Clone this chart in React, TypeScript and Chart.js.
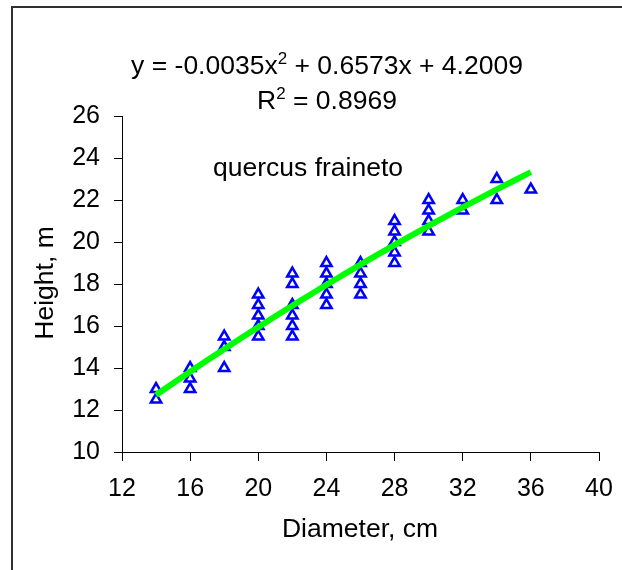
import { useEffect, useRef } from "react";
import { Chart, registerables } from "chart.js";

Chart.register(...registerables);

// Diameter classes (cm) and the measured heights (m) at each class
const DIAMETER_CLASSES = [14, 16, 18, 20, 22, 24, 26, 28, 30, 32, 34, 36];
const HEIGHTS_BY_CLASS = [
  [13, 12.5],
  [14, 13.5, 13],
  [15.5, 15, 14],
  [17.5, 17, 16.5, 16, 15.5],
  [18.5, 18, 17, 16.5, 16, 15.5],
  [19, 18.5, 18, 17.5, 17],
  [19, 18.5, 18, 17.5],
  [21, 20.5, 20, 19.5, 19],
  [22, 21.5, 21, 20.5],
  [22, 21.5],
  [23, 22],
  [22.5],
];

// Polynomial trend line shown in the chart: y = a x^2 + b x + c
const TREND_COEFFS = [-0.0035, 0.6573, 4.2009];
const TREND_RANGE = [14, 36];
const TREND_STEP = 0.5;

const X_AXIS = { min: 12, max: 40, step: 4 };
const Y_AXIS = { min: 10, max: 26, step: 2 };

const EQUATION_PARTS = ["y = -0.0035x", "2", " + 0.6573x + 4.2009"];
const R2_PARTS = ["R", "2", " = 0.8969"];
const SPECIES_LABEL = "quercus fraineto";
const X_TITLE = "Diameter, cm";
const Y_TITLE = "Height, m";

const FONT_FAMILY = "'Liberation Sans', Arial, sans-serif";

export default function App() {
  const canvasRef = useRef<HTMLCanvasElement | null>(null);

  useEffect(() => {
    document.body.style.margin = "0";
    const canvas = canvasRef.current;
    if (!canvas) return;

    const points: { x: number; y: number }[] = [];
    DIAMETER_CLASSES.forEach((d, i) => {
      HEIGHTS_BY_CLASS[i].forEach((h) => points.push({ x: d, y: h }));
    });

    const trend: { x: number; y: number }[] = [];
    for (let x = TREND_RANGE[0]; x <= TREND_RANGE[1] + 1e-9; x += TREND_STEP) {
      trend.push({
        x,
        y: TREND_COEFFS[0] * x * x + TREND_COEFFS[1] * x + TREND_COEFFS[2],
      });
    }

    const BIG = `26.5px ${FONT_FAMILY}`;
    const SMALL = `17px ${FONT_FAMILY}`;

    const drawSup = (
      ctx: CanvasRenderingContext2D,
      parts: string[],
      cx: number,
      baseline: number
    ) => {
      ctx.font = BIG;
      const w0 = ctx.measureText(parts[0]).width;
      const w2 = ctx.measureText(parts[2]).width;
      ctx.font = SMALL;
      const w1 = ctx.measureText(parts[1]).width;
      const total = w0 + w1 + w2;
      let x = cx - total / 2;
      ctx.textAlign = "left";
      ctx.textBaseline = "alphabetic";
      ctx.font = BIG;
      ctx.fillText(parts[0], x, baseline);
      x += w0;
      ctx.font = SMALL;
      ctx.fillText(parts[1], x, baseline - 10);
      x += w1;
      ctx.font = BIG;
      ctx.fillText(parts[2], x, baseline);
    };

    const decor = {
      id: "decor",
      beforeDraw(chart: Chart) {
        const ctx = chart.ctx;
        ctx.save();
        ctx.fillStyle = "#ffffff";
        ctx.fillRect(0, 0, chart.width, chart.height);
        ctx.strokeStyle = "#303030";
        ctx.lineWidth = 2;
        ctx.beginPath();
        ctx.moveTo(12, chart.height + 5);
        ctx.lineTo(12, 7);
        ctx.lineTo(chart.width + 5, 7);
        ctx.stroke();
        ctx.restore();
      },
      afterDraw(chart: Chart) {
        const ctx = chart.ctx;
        ctx.save();
        ctx.fillStyle = "#000000";
        drawSup(ctx, EQUATION_PARTS, 327, 74);
        drawSup(ctx, R2_PARTS, 327, 109);
        ctx.font = BIG;
        ctx.textAlign = "center";
        ctx.textBaseline = "alphabetic";
        ctx.fillText(SPECIES_LABEL, 308, 176);
        ctx.fillText(X_TITLE, 360, 537);
        ctx.translate(53, 283);
        ctx.rotate(-Math.PI / 2);
        ctx.fillText(Y_TITLE, 0, 0);
        ctx.restore();
      },
    };

    const tickFont = { family: FONT_FAMILY, size: 25 };

    const chart = new Chart(canvas, {
      type: "scatter",
      data: {
        datasets: [
          {
            label: "trend",
            data: trend,
            showLine: true,
            borderColor: "#00ff00",
            borderWidth: 6,
            pointRadius: 0,
            tension: 0,
            order: 0,
          },
          {
            label: "quercus fraineto",
            data: points,
            pointStyle: "triangle",
            pointRadius: 6,
            borderWidth: 2.5,
            borderColor: "#0000ff",
            backgroundColor: "#ffffff",
            showLine: false,
            order: 1,
          },
        ],
      },
      options: {
        responsive: false,
        animation: false,
        devicePixelRatio: 1,
        layout: { padding: { left: 0, top: 116, right: 23, bottom: 0 } },
        plugins: {
          legend: { display: false },
          tooltip: { enabled: false },
        },
        scales: {
          x: {
            type: "linear",
            min: X_AXIS.min,
            max: X_AXIS.max,
            ticks: {
              stepSize: X_AXIS.step,
              color: "#000000",
              font: tickFont,
              padding: 13,
              maxRotation: 0,
            },
            grid: {
              drawOnChartArea: false,
              drawTicks: true,
              tickLength: 9,
              color: "#000000",
              lineWidth: 1,
            },
            border: { display: true, color: "#000000", width: 1 },
            afterFit(scale: any) {
              scale.height = 118;
              scale.paddingRight = 0;
            },
          },
          y: {
            type: "linear",
            min: Y_AXIS.min,
            max: Y_AXIS.max,
            ticks: {
              stepSize: Y_AXIS.step,
              color: "#000000",
              font: tickFont,
              padding: 14,
            },
            grid: {
              drawOnChartArea: false,
              drawTicks: true,
              tickLength: 8,
              color: "#000000",
              lineWidth: 1,
            },
            border: { display: true, color: "#000000", width: 1 },
            afterFit(scale: any) {
              scale.width = 122;
            },
          },
        },
      },
      plugins: [decor],
    });

    return () => chart.destroy();
  }, []);

  return (
    <canvas
      ref={canvasRef}
      width={622}
      height={570}
      style={{ display: "block", width: 622, height: 570 }}
    />
  );
}
